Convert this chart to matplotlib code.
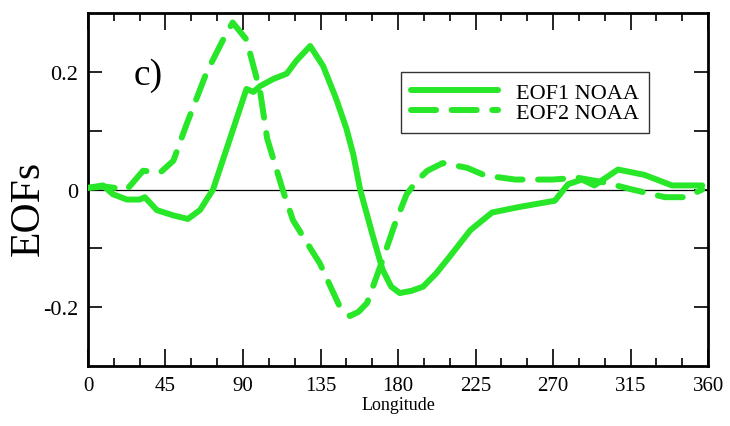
import numpy as np
import matplotlib
matplotlib.use("Agg")
import matplotlib.pyplot as plt
from matplotlib.ticker import MultipleLocator, FixedLocator

# EOF1 NOAA (solid)
lon1 = [0, 8.7, 14.5, 22.6, 30, 33, 40, 49.6, 58, 65, 72.6, 82.5, 92, 96, 100, 107.6,
        115.4, 121, 129, 136.5, 144, 150, 154, 158, 165, 171, 176, 181, 188, 194.6,
        202, 210, 222, 234.6, 249.7, 271, 278.7, 286.7, 294, 307.7, 323, 339, 356.6]
eof1 = [0.003, 0.007, -0.008, -0.017, -0.017, -0.013, -0.035, -0.044, -0.05, -0.035, 0.0,
        0.087, 0.171, 0.166, 0.176, 0.188, 0.197, 0.219, 0.244, 0.21, 0.155, 0.104,
        0.06, 0.0, -0.075, -0.136, -0.165, -0.176, -0.172, -0.165, -0.143, -0.114,
        -0.069, -0.039, -0.03, -0.019, 0.009, 0.017, 0.007, 0.034, 0.025, 0.007, 0.007]

# EOF2 NOAA (dashed)
lon2 = [1, 10, 22.6, 32, 42, 49.6, 57, 69, 78.5, 84, 92, 100, 104, 113, 119, 127,
        134.7, 140, 146, 152, 157, 162, 171, 178, 185, 191, 197, 206, 220, 230.5, 248,
        269.5, 284.5, 300, 316, 335, 346.7, 356.6]
eof2 = [0.003, 0.005, 0.0, 0.032, 0.029, 0.049, 0.109, 0.2, 0.255, 0.284, 0.255, 0.166,
        0.087, 0.0, -0.052, -0.09, -0.126, -0.16, -0.198, -0.215, -0.208, -0.193, -0.12,
        -0.06, -0.008, 0.015, 0.032, 0.045, 0.037, 0.024, 0.017, 0.017, 0.02, 0.012,
        0.0, -0.013, -0.013, 0.0]

xticks = [0, 45, 90, 135, 180, 225, 270, 315, 360]
yticks = [-0.2, 0, 0.2]
ytick_labels = ["-0.2", "0", "0.2"]

green = "#28e628"
plt.rcParams["font.family"] = ["Liberation Serif", "DejaVu Serif"]

fig = plt.figure(figsize=(7.3, 4.27), dpi=100)
ax = fig.add_axes([0.1205, 0.1405, 0.8495, 0.8265])

ax.axhline(0, color="black", lw=0.9, zorder=1)
ax.plot(lon1, eof1, color=green, lw=4.3, solid_capstyle="round",
        solid_joinstyle="round", label="EOF1 NOAA", zorder=3)
ax.plot(lon2, eof2, color=green, lw=4.3, dashes=(4.2, 2.6), dash_capstyle="round",
        dash_joinstyle="round", label="EOF2 NOAA", zorder=3)

ax.set_xlim(0, 360)
ax.set_ylim(-0.3, 0.3)
ax.set_xticks(xticks)
ax.xaxis.set_minor_locator(MultipleLocator(15))
ax.set_yticks(yticks)
ax.set_yticklabels(ytick_labels)
ax.yaxis.set_minor_locator(FixedLocator([-0.1, 0.1]))

ax.tick_params(which="both", direction="in", top=True, right=True, width=1.2, pad=7)
ax.tick_params(axis="x", labelsize=15)
ax.tick_params(axis="y", labelsize=16)
ax.tick_params(axis="x", which="major", length=12)
ax.tick_params(axis="x", which="minor", length=6)
ax.tick_params(axis="y", which="both", length=10)
for s in ax.spines.values():
    s.set_linewidth(2)

ax.set_xlabel("Longitude", fontsize=13, labelpad=1)
fig.text(28 / 730, 0.512, "EOFs", rotation=90, fontsize=30, ha="center", va="center")
ax.text(0.074, 0.80, "c)", transform=ax.transAxes, fontsize=27)

leg = ax.legend(loc="upper left", bbox_to_anchor=(0.505, 0.833), fontsize=16,
                handlelength=3.9, frameon=True, fancybox=False, edgecolor="black",
                borderpad=0.45, labelspacing=0.0, handletextpad=0.8, borderaxespad=0)
leg.get_frame().set_linewidth(1.0)

fig.savefig("out.png", dpi=100)
